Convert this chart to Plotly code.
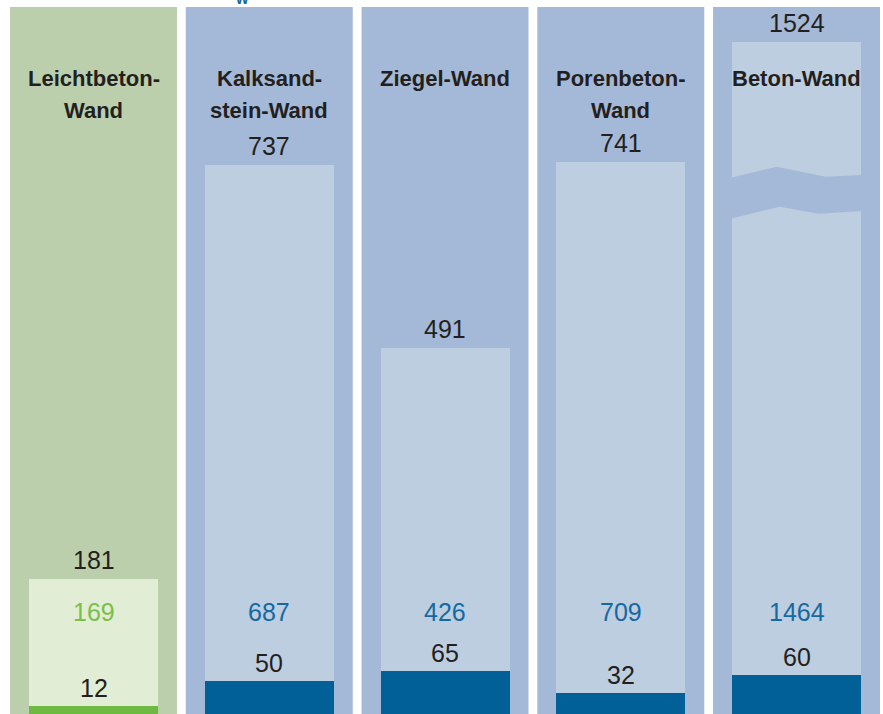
import plotly.graph_objects as go

# Wall types and their values
categories = ["Leichtbeton-<br>Wand", "Kalksand-<br>stein-Wand", "Ziegel-Wand",
              "Porenbeton-<br>Wand", "Beton-Wand"]
totals = [181, 737, 491, 741, 1524]
upper_values = [169, 687, 426, 709, 1464]
base_values = [12, 50, 65, 32, 60]

# Styling
PANEL_COLORS = ["#bccfad", "#a4b9d7", "#a4b9d7", "#a4b9d7", "#a4b9d7"]
LIGHT_COLORS = ["#e1edd5", "#bdcee0", "#bdcee0", "#bdcee0", "#bdcee0"]
DARK_COLORS = ["#6eb941", "#006097", "#006097", "#006097", "#006097"]
MID_TEXT_COLORS = ["#7ac048", "#1669a0", "#1669a0", "#1669a0", "#1669a0"]
TEXT_COLOR = "#231f20"
NUM_FONT = "Liberation Sans, Arial, sans-serif"
HEAD_FONT = "Liberation Sans, Arial, sans-serif"

H = 714
Y_MAX = 958       # axis top for the totals
Y2_MAX = 1090     # base bars are drawn on their own (compressed) scale, as in the original
CAP = 902         # where the broken bar is cut off
BAR_W = 0.734
PANEL_W = 0.95

xs = list(range(len(categories)))
shown_totals = [min(t, CAP) for t in totals]

fig = go.Figure()

# light total bars
fig.add_trace(go.Bar(
    x=xs, y=shown_totals, width=BAR_W,
    marker=dict(color=LIGHT_COLORS, line=dict(width=0)),
    hoverinfo="skip",
))
# dark base bars
fig.add_trace(go.Bar(
    x=xs, y=base_values, width=BAR_W, yaxis="y2",
    marker=dict(color=DARK_COLORS, line=dict(width=0)),
    hoverinfo="skip",
))

shapes = []
# background panels
for i in xs:
    shapes.append(dict(
        type="rect", xref="x", yref="paper", layer="below",
        x0=i - PANEL_W / 2, x1=i + PANEL_W / 2, y0=0, y1=1 - 7 / H,
        fillcolor=PANEL_COLORS[i], line=dict(width=0),
    ))

# axis break on the over-long bar
for i, t in enumerate(totals):
    if t > CAP:
        px = 175.75
        sc = 0.745

        def pt(dx, py):
            return f"{i + dx / px:.4f},{(H - py) / sc:.2f}"

        path = ("M " + pt(-70, 179) + " L " + pt(-20, 167) + " L " + pt(29, 177)
                + " L " + pt(70, 175) + " L " + pt(70, 211) + " L " + pt(22, 214)
                + " L " + pt(-17, 207) + " L " + pt(-70, 220) + " Z")
        shapes.append(dict(type="path", xref="x", yref="y", path=path,
                           fillcolor=PANEL_COLORS[i], line=dict(width=0)))

annotations = []
for i in xs:
    # heading, one annotation per line
    for k, line in enumerate(categories[i].split("<br>")):
        annotations.append(dict(
            x=i, y=1 - (78 + 32 * k) / H, xref="x", yref="paper", yanchor="middle",
            text=f"<b>{line}</b>", showarrow=False,
            font=dict(family=HEAD_FONT, size=22, color=TEXT_COLOR),
        ))
    # total above bar
    annotations.append(dict(
        x=i, y=shown_totals[i], xref="x", yref="y", yanchor="middle", yshift=19,
        text=str(totals[i]), showarrow=False,
        font=dict(family=NUM_FONT, size=25, color=TEXT_COLOR),
    ))
    # upper part value
    annotations.append(dict(
        x=i, y=(H - 612) / H, xref="x", yref="paper", yanchor="middle",
        text=str(upper_values[i]), showarrow=False,
        font=dict(family=NUM_FONT, size=25, color=MID_TEXT_COLORS[i]),
    ))
    # base value above dark bar
    annotations.append(dict(
        x=i, y=base_values[i], xref="x", yref="y2", yanchor="middle", yshift=18,
        text=str(base_values[i]), showarrow=False,
        font=dict(family=NUM_FONT, size=25, color=TEXT_COLOR),
    ))

# clipped remnant of a heading above the chart
annotations.append(dict(
    x=233 / 883, y=1.0, xref="paper", yref="paper", yanchor="bottom", yshift=-9,
    text="<b>w</b>", showarrow=False,
    font=dict(family=NUM_FONT, size=16, color="#1669a0"),
))

fig.update_layout(
    width=883, height=H,
    margin=dict(l=0, r=0, t=0, b=0),
    paper_bgcolor="white", plot_bgcolor="white",
    barmode="overlay", bargap=0,
    showlegend=False,
    xaxis=dict(range=[-0.532, 4.492], visible=False, fixedrange=True),
    yaxis=dict(range=[0, Y_MAX], visible=False, fixedrange=True),
    yaxis2=dict(range=[0, Y2_MAX], visible=False, fixedrange=True,
                overlaying="y"),
    shapes=shapes, annotations=annotations,
)

fig.write_html("out.html", config={"displayModeBar": False},
               post_script="document.body.style.margin='0';")
